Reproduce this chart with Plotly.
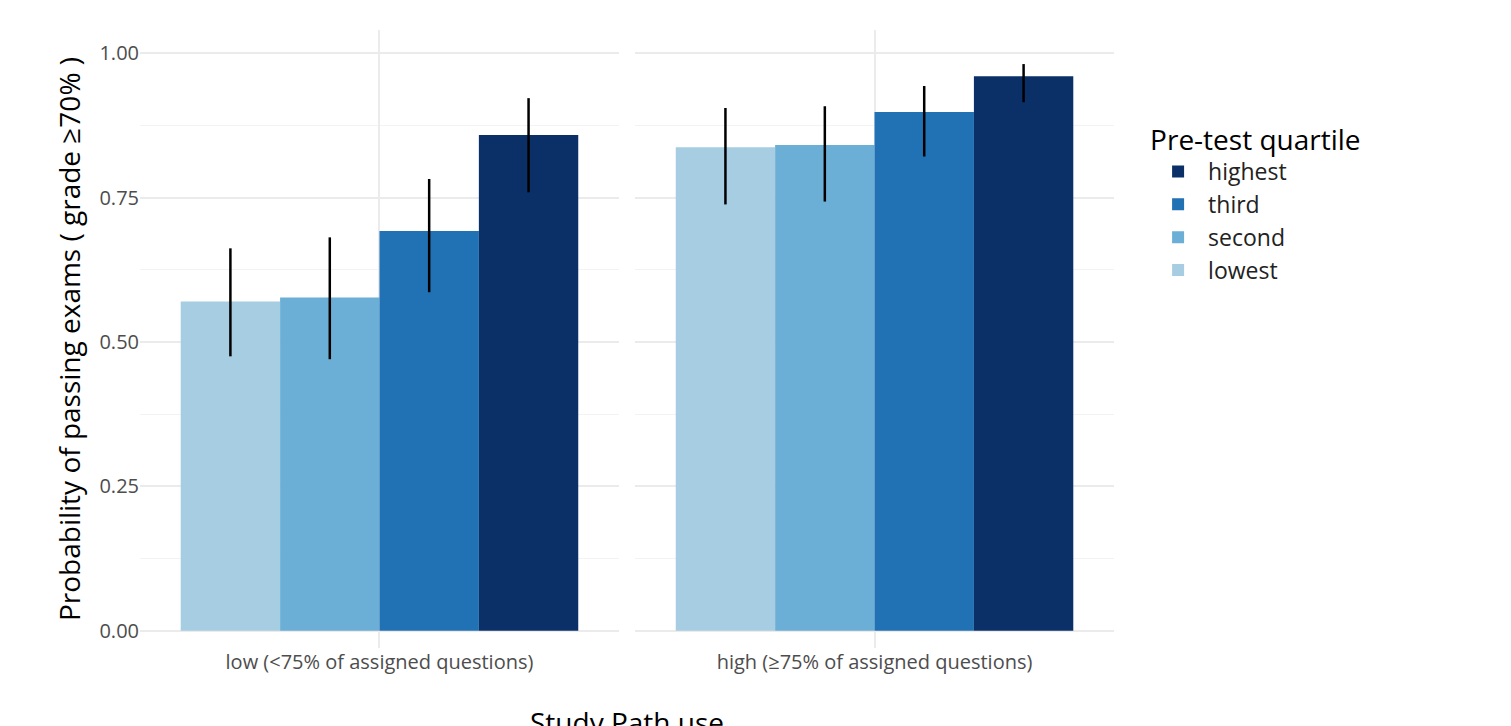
import plotly.graph_objects as go
from plotly.subplots import make_subplots

groups = ["low (<75% of assigned questions)", "high (≥75% of assigned questions)"]
quartiles = ["lowest", "second", "third", "highest"]
colors = ["#a6cde2", "#6baed6", "#2171b5", "#0b3068"]

# probability per quartile, [low, high]
prob = {
    "lowest": [0.570, 0.837],
    "second": [0.577, 0.841],
    "third": [0.692, 0.898],
    "highest": [0.858, 0.960],
}
upper = {
    "lowest": [0.662, 0.905],
    "second": [0.681, 0.908],
    "third": [0.782, 0.943],
    "highest": [0.922, 0.981],
}
lower = {
    "lowest": [0.475, 0.738],
    "second": [0.470, 0.743],
    "third": [0.586, 0.821],
    "highest": [0.759, 0.915],
}

fig = make_subplots(rows=1, cols=2, shared_yaxes=True, horizontal_spacing=0.0165)

for q, c in zip(quartiles, colors):
    for i in range(2):
        fig.add_trace(go.Bar(
            x=[groups[i]], y=[prob[q][i]], name=q, marker_color=c,
            marker_line_width=0, showlegend=(i == 0), legendgroup=q,
            error_y=dict(type="data", array=[upper[q][i] - prob[q][i]],
                         arrayminus=[prob[q][i] - lower[q][i]],
                         color="black", thickness=2.5, width=0),
        ), row=1, col=i + 1)

fig.update_layout(
    barmode="group", bargap=0.17, bargroupgap=0,
    width=1511, height=726,
    margin=dict(l=132, r=405, t=22, b=86),
    plot_bgcolor="white", paper_bgcolor="white",
    font=dict(family="Open Sans", color="#4d4d4d"),
    legend=dict(title=dict(text="Pre-test quartile", font=dict(size=28, color="black")),
                traceorder="reversed", x=1.035, y=0.72, yanchor="middle",
                font=dict(size=23, color="#222"), itemwidth=50, tracegroupgap=14),
)
for ax in ["xaxis", "xaxis2"]:
    fig.layout[ax].update(showgrid=True, gridcolor="#ebebeb", gridwidth=1.5,
                          tickfont=dict(size=20, color="#4d4d4d"), ticks="",
                          range=[-0.5, 0.5], zeroline=False)
fig.update_yaxes(range=[-0.03, 1.04], tickvals=[0, 0.25, 0.5, 0.75, 1.0],
                 ticktext=["0.00", "0.25", "0.50", "0.75", "1.00"],
                 showgrid=True, gridcolor="#ebebeb", gridwidth=1.5,
                 minor=dict(dtick=0.125, showgrid=True, gridcolor="#f3f3f3", gridwidth=1),
                 zeroline=False, tickfont=dict(size=20, color="#4d4d4d"))
fig.update_yaxes(title=dict(text="Probability of passing exams ( grade ≥70% )",
                            font=dict(size=28, color="black"), standoff=10), row=1, col=1)
fig.add_annotation(text="Study Path use", xref="paper", yref="paper", x=0.5, y=-0.085,
                   yanchor="top", showarrow=False, font=dict(size=28, color="black"))

fig.write_html("out.html")
